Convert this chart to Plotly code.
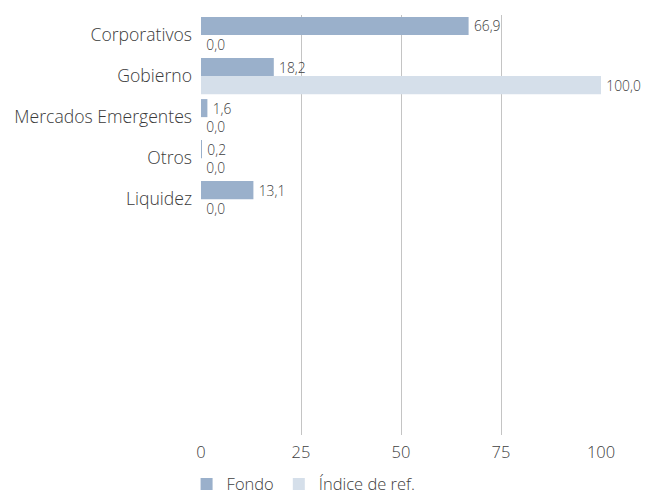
import plotly.graph_objects as go

categories = ["Corporativos", "Gobierno", "Mercados Emergentes", "Otros", "Liquidez"]
fondo = [66.9, 18.2, 1.6, 0.2, 13.1]
indice = [0.0, 100.0, 0.0, 0.0, 0.0]
x_ticks = [0, 25, 50, 75, 100]

FONT = "Open Sans"
TXT = "#404040"
fig = go.Figure()
fig.add_trace(go.Bar(
    y=categories, x=fondo, name="Fondo", orientation="h",
    marker=dict(color="#9AB0CB", line=dict(width=0)),
    texttemplate="\u2009%{x:.1f}", textposition="outside", cliponaxis=False,
    textfont=dict(family=FONT, size=15.3, color=TXT, weight=300),
))
fig.add_trace(go.Bar(
    y=categories, x=indice, name="Índice de ref.", orientation="h",
    marker=dict(color="#D5DFEA", line=dict(width=0)),
    texttemplate="\u2009%{x:.1f}", textposition="outside", cliponaxis=False,
    textfont=dict(family=FONT, size=15.3, color=TXT, weight=300),
))
fig.update_layout(
    width=659, height=495,
    margin=dict(l=193, r=66, t=7, b=68, autoexpand=False),
    paper_bgcolor="white", plot_bgcolor="white",
    separators=",.",
    barmode="group", bargap=0.12, bargroupgap=0,
    font=dict(family=FONT, size=16.5, color=TXT, weight=300),
    showlegend=True,
    legend=dict(orientation="h", xref="container", yref="container",
                x=0.271, xanchor="left", y=0.038, yanchor="middle",
                font=dict(family=FONT, size=16.5, color=TXT, weight=300),
                itemwidth=30, tracegroupgap=0, traceorder="normal"),
    xaxis=dict(range=[0, 100], tickvals=x_ticks, showgrid=True, gridcolor="#C4C4C4",
               gridwidth=1, zeroline=False, showline=False, ticks="", automargin=False,
               ticklabelstandoff=5,
               tickfont=dict(family=FONT, size=16.5, color=TXT, weight=300)),
    yaxis=dict(type="category", categoryorder="array", categoryarray=categories,
               range=[9.75, -0.49], showgrid=False, zeroline=False, showline=False,
               ticks="", ticklabelstandoff=8, automargin=False,
               tickfont=dict(family=FONT, size=17.6, color="#3a3a3a", weight=300)),
)
fig.write_html("out.html")
